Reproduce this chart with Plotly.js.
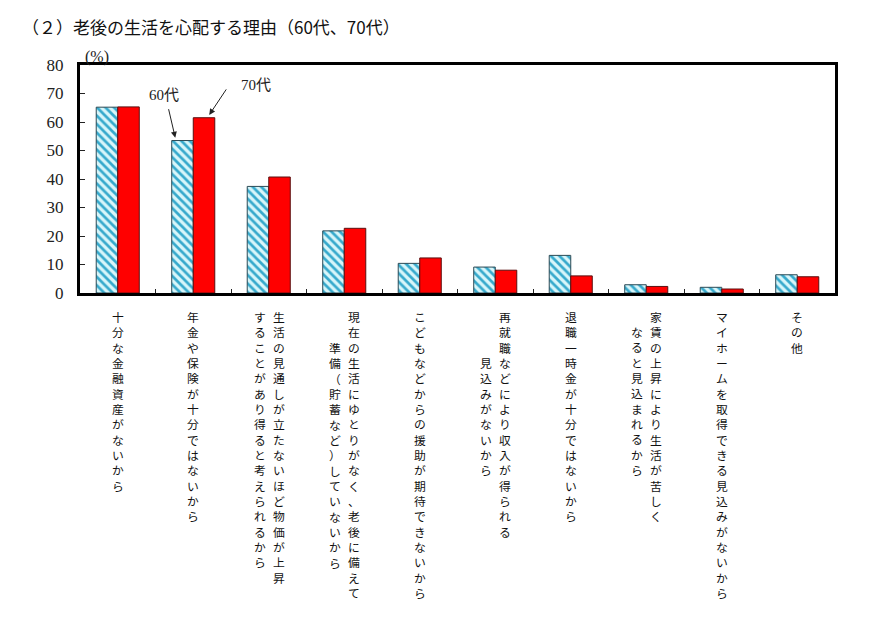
<!DOCTYPE html>
<html>
<head>
<meta charset="utf-8">
<script src="https://cdn.plot.ly/plotly-3.0.1.min.js"></script>
<style>
    html, body { margin: 0; padding: 0; background: #fff; }
    #chart { width: 870px; height: 631px; }
</style>
</head>
<body>
<div id="chart"></div>
<script>
// Reasons for worrying about life in old age, by age group (%)
const categories = [
    "十分な金融資産がないから",
    "年金や保険が十分ではないから",
    "生活の見通しが立たないほど物価が上昇することがあり得ると考えられるから",
    "現在の生活にゆとりがなく、老後に備えて準備（貯蓄など）していないから",
    "こどもなどからの援助が期待できないから",
    "再就職などにより収入が得られる見込みがないから",
    "退職一時金が十分ではないから",
    "家賃の上昇により生活が苦しくなると見込まれるから",
    "マイホームを取得できる見込みがないから",
    "その他"
];

// how each category label is broken into vertical columns (right column first)
const labelColumns = [
    ["十分な金融資産がないから"],
    ["年金や保険が十分ではないから"],
    ["生活の見通しが立たないほど物価が上昇", "することがあり得ると考えられるから"],
    ["現在の生活にゆとりがなく、老後に備えて", "　　準備（貯蓄など）していないから"],
    ["こどもなどからの援助が期待できないから"],
    ["再就職などにより収入が得られる", "　　　見込みがないから"],
    ["退職一時金が十分ではないから"],
    ["家賃の上昇により生活が苦しく", "　なると見込まれるから"],
    ["マイホームを取得できる見込みがないから"],
    ["その他"]
];

const seriesNames = ["60代", "70代"];
const values60s = [65.2, 53.5, 37.4, 21.8, 10.4, 9.1, 13.2, 2.9, 2.0, 6.4];
const values70s = [65.3, 61.5, 40.7, 22.7, 12.3, 8.0, 6.0, 2.3, 1.4, 5.7];

const yTicks = [0, 10, 20, 30, 40, 50, 60, 70, 80];

const SERIF = "'Liberation Serif', 'Times New Roman', 'Noto Sans CJK JP', serif";
const GOTHIC = "'Noto Sans CJK JP', sans-serif";
const LABEL_SIZE = 11.8;
const LINE_PITCH = LABEL_SIZE * 1.3;

const traces = [
    {
        type: "bar",
        name: seriesNames[0],
        x: categories,
        y: values60s,
        marker: {
            color: "#bfeef6",
            line: {color: "#2b4a55", width: 1},
            pattern: {shape: "\\", fgcolor: "#36a9cc", bgcolor: "#d8f6fa", size: 6, solidity: 0.45}
        },
        hoverinfo: "y"
    },
    {
        type: "bar",
        name: seriesNames[1],
        x: categories,
        y: values70s,
        marker: {
            color: "#ff0000",
            line: {color: "#5a1010", width: 1}
        },
        hoverinfo: "y"
    }
];

// vertical text: one character per line
function verticalText(str) {
    return Array.from(str).join("<br>");
}

const annotations = [];

labelColumns.forEach((cols, i) => {
    cols.forEach((col, k) => {
        const lead = col.match(/^　*/)[0].length;
        const text = col.slice(lead);
        let shift = 0;
        if (cols.length > 1) shift = k === 0 ? 10 : -9;
        annotations.push({
            x: categories[i],
            xref: "x",
            y: 0,
            yref: "paper",
            yanchor: "top",
            xanchor: "center",
            xshift: shift,
            yshift: -13 - lead * LINE_PITCH,
            showarrow: false,
            text: verticalText(text),
            font: {family: GOTHIC, size: LABEL_SIZE, color: "#111"}
        });
    });
});

// "(%)" unit label
annotations.push({
    x: 0.0225, xref: "paper", xanchor: "center",
    y: 1.035, yref: "paper", yanchor: "middle",
    text: "(%)",
    showarrow: false,
    font: {family: SERIF, size: 16, color: "#222"}
});

// series callouts
annotations.push(
    {
        x: categories[1], xref: "x", y: values60s[1] + 1, yref: "y",
        xshift: -18, ax: -7, ay: -30,
        text: "", showarrow: true, arrowhead: 2, arrowsize: 1.2, arrowwidth: 1, arrowcolor: "#222"
    },
    {
        x: categories[1], xref: "x", y: values70s[1] + 1, yref: "y",
        xshift: 16, ax: 18, ay: -27,
        text: "", showarrow: true, arrowhead: 2, arrowsize: 1.2, arrowwidth: 1, arrowcolor: "#222"
    },
    {
        x: categories[1], xref: "x", y: 69.5, yref: "y", xshift: -29,
        text: seriesNames[0], showarrow: false,
        font: {family: SERIF, size: 15, color: "#222"}
    },
    {
        x: categories[1], xref: "x", y: 73, yref: "y", xshift: 63,
        text: seriesNames[1], showarrow: false,
        font: {family: SERIF, size: 15, color: "#222"}
    }
);

const layout = {
    width: 870,
    height: 631,
    margin: {l: 80, r: 35, t: 65, b: 338},
    paper_bgcolor: "#fff",
    plot_bgcolor: "#fff",
    showlegend: false,
    barmode: "group",
    bargap: 0.43,
    bargroupgap: 0,
    title: {
        text: "（２）老後の生活を心配する理由（60代、70代）",
        x: 22 / 870, xref: "container", xanchor: "left",
        y: 1 - 28 / 631, yref: "container", yanchor: "middle",
        font: {family: GOTHIC, size: 17, color: "#111", weight: 400}
    },
    xaxis: {
        type: "category",
        showticklabels: false,
        ticks: "inside",
        tickson: "boundaries",
        ticklen: 4,
        tickcolor: "#222",
        showline: true,
        linecolor: "#000",
        linewidth: 3,
        mirror: true,
        showgrid: false,
        zeroline: false
    },
    yaxis: {
        range: [0, 80],
        tickvals: yTicks,
        ticks: "inside",
        ticklen: 5,
        tickcolor: "#222",
        ticklabelstandoff: 10,
        tickfont: {family: SERIF, size: 17, color: "#222"},
        showline: true,
        linecolor: "#000",
        linewidth: 3,
        mirror: true,
        showgrid: false,
        zeroline: false
    },
    annotations: annotations
};

Plotly.newPlot("chart", traces, layout, {displayModeBar: false, staticPlot: true});
</script>
</body>
</html>
